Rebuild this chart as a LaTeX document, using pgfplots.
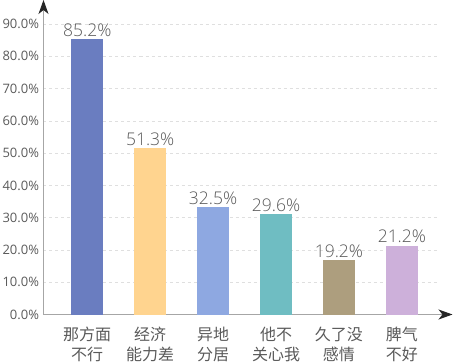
\documentclass[border=0pt]{standalone}
\usepackage{pgfplots}
\pgfplotsset{compat=1.18}
\usepackage{fontspec}
\setmainfont{Open Sans}
\newfontfamily\lightfont{Open Sans Light}
\newfontfamily\cjk{Noto Sans CJK SC}
\usetikzlibrary{arrows.meta}
\definecolor{c1}{HTML}{6A7DC0}
\definecolor{c2}{HTML}{FFD48F}
\definecolor{c3}{HTML}{8EA8E1}
\definecolor{c4}{HTML}{6FBDC2}
\definecolor{c5}{HTML}{AD9E7E}
\definecolor{c6}{HTML}{CDB0DA}
\definecolor{txt}{HTML}{5A5A5A}
\begin{document}
\begin{tikzpicture}
\useasboundingbox (0,0) rectangle (453pt,362pt);
\begin{axis}[
  at={(43.5pt,47.5pt)}, anchor=south west,
  scale only axis, width=393pt, height=290.5pt,
  ybar, bar width=32pt, bar shift=0pt,
  xmin=-0.695, xmax=5.55, ymin=0, ymax=90,
  axis lines=left,
  axis line style={draw=gray!70, line width=0.9pt, -{Stealth[length=14pt,width=10pt,inset=4pt,color=black!85]}},
  x axis line style={shorten >=-16pt},
  y axis line style={shorten >=-24pt},
  major tick length=0pt,
  ytick={0,10,...,90},
  ymajorgrids, grid style={dashed, gray!25, line width=0.6pt},
  /pgf/number format/assume math mode=true,
  yticklabel={\pgfmathprintnumber[fixed,fixed zerofill,precision=1]{\tick}\%},
  yticklabel style={font=\fontsize{13}{15}\selectfont, text=txt, xshift=-1pt},
  xtick={0,1,2,3,4,5},
  xticklabels={{那方面\\不行},{经济\\能力差},{异地\\分居},{他不\\关心我},{久了没\\感情},{脾气\\不好}},
  xticklabel style={font=\cjk\fontsize{16}{20}\selectfont, align=center, text=txt, yshift=-9pt},
  point meta=explicit symbolic,
  nodes near coords={\pgfplotspointmeta\%},
  nodes near coords style={font=\lightfont\fontsize{17.5}{20}\selectfont, text=txt, inner sep=2.5pt},
]
\addplot[fill=c1, draw=none] coordinates {(0,85.2) [85.2]};
\addplot[fill=c2, draw=none] coordinates {(1,51.6) [51.3]};
\addplot[fill=c3, draw=none] coordinates {(2,33.2) [32.5]};
\addplot[fill=c4, draw=none] coordinates {(3,31.1) [29.6]};
\addplot[fill=c5, draw=none] coordinates {(4,16.9) [19.2]};
\addplot[fill=c6, draw=none] coordinates {(5,21.3) [21.2]};
\end{axis}
\end{tikzpicture}
\end{document}
